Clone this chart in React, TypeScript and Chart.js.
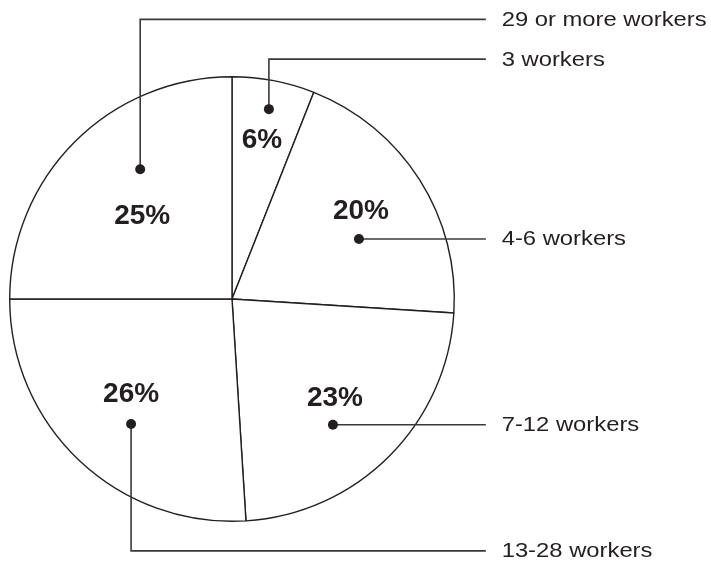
import React, { useEffect, useRef } from "react";
import { Chart, registerables } from "chart.js";

Chart.register(...registerables);

// ---- data ----
const categories = ["3 workers", "4-6 workers", "7-12 workers", "13-28 workers", "29 or more workers"];
const shares = [6, 20, 23, 26, 25];
const percentLabels = shares.map((v) => `${v}%`);

// ---- annotation layout (in units of pie radius, relative to pie centre) ----
const dotOffsets: [number, number][] = [
  [0.166, -0.854],
  [0.571, -0.27],
  [0.454, 0.566],
  [-0.454, 0.562],
  [-0.413, -0.584],
];
const pctOffsets: [number, number][] = [
  [0.135, -0.719],
  [0.58, -0.4],
  [0.463, 0.44],
  [-0.454, 0.422],
  [-0.404, -0.378],
];
// y of leader row (null => same as dot)
const leaderRowY: (number | null)[] = [-1.079, null, null, 1.133, -1.258];
const leaderEndX = 1.142;
const leaderTextX = 1.213;
const TEXT_STRETCH = 1.19;

const INK = "#231f20";

const annotationPlugin = {
  id: "leaderAnnotations",
  afterDatasetsDraw(chart: any) {
    const meta = chart.getDatasetMeta(0);
    const ctx: CanvasRenderingContext2D = chart.ctx;
    ctx.save();
    meta.data.forEach((arc: any, i: number) => {
      const cx = arc.x;
      const cy = arc.y;
      const R = arc.outerRadius;
      const dx = cx + dotOffsets[i][0] * R;
      const dy = cy + dotOffsets[i][1] * R;
      const rowY = leaderRowY[i] === null ? dy : cy + (leaderRowY[i] as number) * R;
      const endX = cx + leaderEndX * R;
      // leader line
      ctx.strokeStyle = "#3a3a3a";
      ctx.lineWidth = 1.6;
      ctx.beginPath();
      ctx.moveTo(dx, dy);
      if (Math.abs(rowY - dy) > 0.5) ctx.lineTo(dx, rowY);
      ctx.lineTo(endX, rowY);
      ctx.stroke();
      // dot
      ctx.fillStyle = INK;
      ctx.beginPath();
      ctx.arc(dx, dy, 5, 0, Math.PI * 2);
      ctx.fill();
      // category label (glyphs slightly wide, as in the reference)
      ctx.save();
      ctx.translate(cx + leaderTextX * R, rowY + 1);
      ctx.scale(TEXT_STRETCH, 1);
      ctx.fillStyle = INK;
      ctx.font = "20px 'Liberation Sans', Arial, sans-serif";
      ctx.textAlign = "left";
      ctx.textBaseline = "middle";
      ctx.fillText(categories[i], 0, 0);
      ctx.restore();
      // percentage label
      ctx.fillStyle = INK;
      ctx.font = "bold 28px 'Liberation Sans', Arial, sans-serif";
      ctx.textAlign = "center";
      ctx.textBaseline = "middle";
      ctx.fillText(percentLabels[i], cx + pctOffsets[i][0] * R, cy + pctOffsets[i][1] * R + 1);
    });
    ctx.restore();
  },
};

export default function App() {
  const canvasRef = useRef<HTMLCanvasElement | null>(null);

  useEffect(() => {
    if (!canvasRef.current) return;
    const chart = new Chart(canvasRef.current, {
      type: "pie",
      data: {
        labels: categories,
        datasets: [
          {
            data: shares,
            backgroundColor: "#ffffff",
            borderColor: INK,
            borderWidth: 1.4,
            hoverOffset: 0,
            offset: 0,
          },
        ],
      },
      options: {
        responsive: false,
        animation: false,
        devicePixelRatio: 1,
        layout: { padding: { left: 9, right: 256, top: 76, bottom: 42 } },
        plugins: {
          legend: { display: false },
          tooltip: { enabled: false },
          title: { display: false },
        },
        events: [],
      },
      plugins: [annotationPlugin],
    } as any);
    return () => chart.destroy();
  }, []);

  return (
    <div style={{ position: "absolute", left: 0, top: 0, width: 711, height: 564, background: "#fff" }}>
      <canvas ref={canvasRef} width={711} height={564} style={{ width: 711, height: 564, display: "block" }} />
    </div>
  );
}
